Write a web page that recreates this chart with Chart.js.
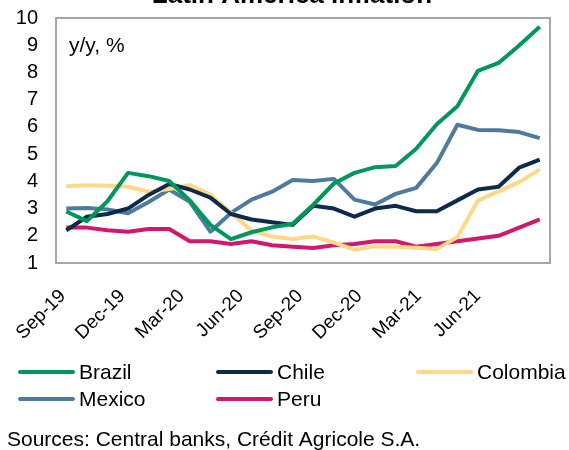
<!DOCTYPE html>
<html>
<head>
<meta charset="utf-8">
<script src="https://cdn.jsdelivr.net/npm/chart.js@4.4.1/dist/chart.umd.min.js"></script>
<style>
html, body { margin: 0; padding: 0; background: #fff; }
#wrap { width: 569px; height: 450px; position: relative; }
</style>
</head>
<body>
<div id="wrap"><canvas id="inflacaoChart"></canvas></div>
<script>
// Dados (inflação y/y, %)
const meses = ['Sep-19', 'Oct-19', 'Nov-19', 'Dec-19', 'Jan-20', 'Feb-20', 'Mar-20', 'Apr-20',
    'May-20', 'Jun-20', 'Jul-20', 'Aug-20', 'Sep-20', 'Oct-20', 'Nov-20', 'Dec-20',
    'Jan-21', 'Feb-21', 'Mar-21', 'Apr-21', 'May-21', 'Jun-21', 'Jul-21', 'Aug-21'];
// rótulos do eixo (no original ficam num eixo de 25 posições)
const rotulos = ['Sep-19', '', '', 'Dec-19', '', '', 'Mar-20', '', '', 'Jun-20', '', '',
    'Sep-20', '', '', 'Dec-20', '', '', 'Mar-21', '', '', 'Jun-21', '', '', ''];
const brazil = [2.89, 2.54, 3.27, 4.31, 4.19, 4.01, 3.30, 2.40, 1.88, 2.13, 2.31, 2.44,
    3.14, 3.92, 4.31, 4.52, 4.56, 5.20, 6.10, 6.76, 8.06, 8.35, 8.99, 9.68];
const chile = [2.2, 2.7, 2.8, 3.0, 3.5, 3.9, 3.7, 3.4, 2.8, 2.6, 2.5, 2.4,
    3.1, 3.0, 2.7, 3.0, 3.1, 2.9, 2.9, 3.3, 3.7, 3.8, 4.5, 4.8];
const colombia = [3.82, 3.86, 3.84, 3.80, 3.62, 3.72, 3.86, 3.51, 2.85, 2.19, 1.97, 1.88,
    1.97, 1.75, 1.49, 1.61, 1.60, 1.56, 1.51, 1.95, 3.30, 3.63, 3.97, 4.44];
const mexico = [3.00, 3.02, 2.97, 2.83, 3.24, 3.70, 3.25, 2.15, 2.84, 3.33, 3.62, 4.05,
    4.01, 4.09, 3.33, 3.15, 3.54, 3.76, 4.67, 6.08, 5.89, 5.88, 5.81, 5.59];
const peru = [2.3, 2.3, 2.2, 2.15, 2.25, 2.25, 1.8, 1.8, 1.7, 1.8, 1.65, 1.6,
    1.55, 1.65, 1.7, 1.8, 1.8, 1.6, 1.7, 1.8, 1.9, 2.0, 2.3, 2.6];
const yTicks = [1, 2, 3, 4, 5, 6, 7, 8, 9, 10];

const fonte = 'Liberation Sans, Arial, sans-serif';

// Moldura, título cortado, legenda em grade e fonte
const extras = {
    id: 'extras',
    beforeDatasetsDraw(chart) {
        const ctx = chart.ctx;
        const a = chart.chartArea;
        ctx.save();
        ctx.strokeStyle = '#a6a6a6';
        ctx.lineWidth = 2;
        ctx.strokeRect(a.left, a.top, a.right - a.left, a.bottom - a.top);
        ctx.restore();
    },
    afterDraw(chart) {
        const ctx = chart.ctx;
        const a = chart.chartArea;
        ctx.save();
        ctx.fillStyle = '#000';
        ctx.textBaseline = 'alphabetic';
        ctx.textAlign = 'center';
        ctx.font = 'bold 26px ' + fonte;
        ctx.fillText('Latin America inflation', 292, 3);

        ctx.textAlign = 'left';
        ctx.textBaseline = 'middle';
        ctx.font = '21px ' + fonte;
        ctx.fillText('y/y, %', a.left + 13, 46);

        // legenda: 3 colunas
        const cols = [20, 218, 418];
        const rows = [372, 399];
        chart.data.datasets.forEach((ds, i) => {
            const x = cols[i % 3];
            const y = rows[Math.floor(i / 3)];
            ctx.strokeStyle = ds.borderColor;
            ctx.lineWidth = 4;
            ctx.lineCap = 'round';
            ctx.beginPath();
            ctx.moveTo(x, y);
            ctx.lineTo(x + 53, y);
            ctx.stroke();
            ctx.fillStyle = '#000';
            ctx.fillText(ds.label, x + 59, y + 1);
        });

        ctx.fillText('Sources: Central banks, Crédit Agricole S.A.', 7, 440);
        ctx.restore();
    }
};

const serie = (label, data, cor) => ({
    label: label,
    data: data,
    borderColor: cor,
    backgroundColor: cor,
    borderWidth: 4,
    pointRadius: 0,
    tension: 0,
    borderJoinStyle: 'round'
});

const ctx1 = document.getElementById('inflacaoChart').getContext('2d');
new Chart(ctx1, {
    type: 'line',
    data: {
        labels: meses,
        datasets: [
            serie('Brazil', brazil, '#00985a'),
            serie('Chile', chile, '#0d2a4b'),
            serie('Colombia', colombia, '#fdd886'),
            serie('Mexico', mexico, '#4e7a9b'),
            serie('Peru', peru, '#d4176a')
        ]
    },
    options: {
        responsive: true,
        maintainAspectRatio: false,
        animation: false,
        layout: { padding: { top: 18, right: 19, left: 0, bottom: 0 } },
        plugins: {
            legend: { display: false },
            tooltip: { enabled: false }
        },
        scales: {
            x: {
                offset: true,
                grid: { display: false, drawTicks: false },
                border: { display: false },
                ticks: { display: false },
                afterFit: (scale) => {
                    scale.height = 0;
                    scale.paddingLeft = 0;
                    scale.paddingRight = 0;
                }
            },
            xRotulos: {
                type: 'category',
                position: 'bottom',
                labels: rotulos,
                offset: true,
                grid: { display: false, drawTicks: false },
                border: { display: false },
                afterFit: (scale) => {
                    scale.height = 187;
                    scale.paddingLeft = 0;
                    scale.paddingRight = 0;
                },
                ticks: {
                    autoSkip: false,
                    minRotation: 45,
                    maxRotation: 45,
                    padding: 22,
                    labelOffset: -3,
                    color: '#000',
                    font: { family: fonte, size: 19 }
                }
            },
            y: {
                min: 1,
                max: 10,
                grid: { display: false, drawTicks: false },
                border: { display: false },
                afterFit: (scale) => {
                    scale.width = 56;
                    scale.paddingTop = 0;
                    scale.paddingBottom = 0;
                },
                afterBuildTicks: (scale) => { scale.ticks = yTicks.map(v => ({ value: v })); },
                ticks: {
                    autoSkip: false,
                    padding: 18,
                    color: '#000',
                    font: { family: fonte, size: 20 }
                }
            }
        }
    },
    plugins: [extras]
});
</script>
</body>
</html>
